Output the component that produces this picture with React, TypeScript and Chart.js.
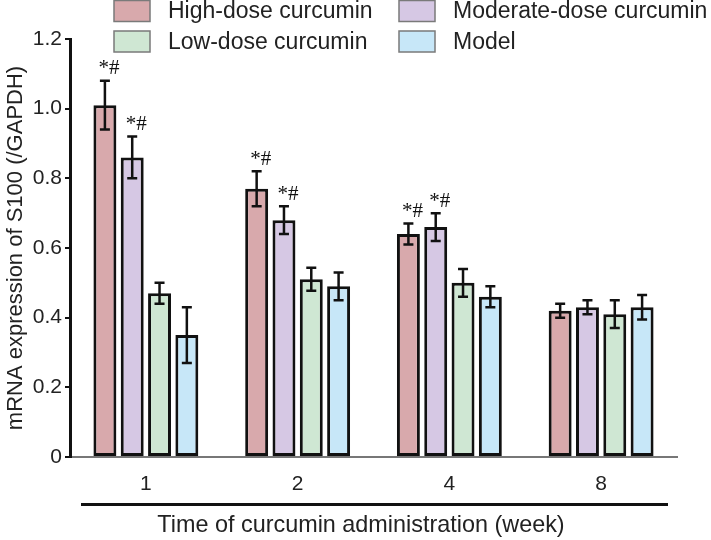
import React, { useEffect, useRef } from "react";
import { Chart, registerables } from "chart.js";

Chart.register(...registerables);

const categories = ["1", "2", "4", "8"];
const seriesNames = ["High-dose curcumin", "Moderate-dose curcumin", "Low-dose curcumin", "Model"];
const highDose = [1.01, 0.77, 0.64, 0.42];
const moderateDose = [0.86, 0.68, 0.66, 0.43];
const lowDose = [0.47, 0.51, 0.5, 0.41];
const model = [0.35, 0.49, 0.46, 0.43];
const highErr = [0.07, 0.05, 0.03, 0.02];
const moderateErr = [0.06, 0.04, 0.04, 0.02];
const lowErr = [0.03, 0.033, 0.04, 0.04];
const modelErr = [0.08, 0.04, 0.03, 0.035];
const highMarks = ["*#", "*#", "*#", ""];
const moderateMarks = ["*#", "*#", "*#", ""];
const lowMarks = ["", "", "", ""];
const modelMarks = ["", "", "", ""];
const yTicks = [0, 0.2, 0.4, 0.6, 0.8, 1.0, 1.2];
const yTitle = "mRNA expression of S100 (/GAPDH)";
const xTitle = "Time of curcumin administration (week)";

const colors = ["#d8a9ac", "#d6c8e4", "#cfe7d3", "#c7e7f8"];
const SANS = "'Liberation Sans', Arial, sans-serif";

const errors = [highErr, moderateErr, lowErr, modelErr];
const marks = [highMarks, moderateMarks, lowMarks, modelMarks];

const extrasPlugin = {
  id: "extras",
  afterDatasetsDraw(chart: any) {
    const ctx = chart.ctx;
    const y = chart.scales.y;
    ctx.save();
    chart.data.datasets.forEach((ds: any, di: number) => {
      const meta = chart.getDatasetMeta(di);
      meta.data.forEach((bar: any, i: number) => {
        const v = ds.data[i];
        const e = errors[di][i];
        const x = bar.x;
        const yt = y.getPixelForValue(v + e);
        const yb = y.getPixelForValue(v - e);
        ctx.strokeStyle = "#111";
        ctx.lineWidth = 2.5;
        ctx.beginPath();
        ctx.moveTo(x, yt);
        ctx.lineTo(x, yb);
        ctx.moveTo(x - 5, yt);
        ctx.lineTo(x + 5, yt);
        ctx.moveTo(x - 5, yb);
        ctx.lineTo(x + 5, yb);
        ctx.stroke();
        const m = marks[di][i];
        if (m) {
          ctx.fillStyle = "#111";
          ctx.font = "21px 'Liberation Serif', 'Times New Roman', serif";
          ctx.textAlign = "center";
          ctx.textBaseline = "middle";
          ctx.fillText(m, x + 4, yt - 12);
        }
      });
    });
    ctx.restore();
  },
  afterDraw(chart: any) {
    const ctx = chart.ctx;
    const area = chart.chartArea;
    ctx.save();
    // legend
    const cols = [114, 399];
    const rows = [0.5, 31];
    chart.data.datasets.forEach((ds: any, di: number) => {
      const bx = cols[di % 2];
      const by = rows[Math.floor(di / 2)];
      ctx.fillStyle = ds.backgroundColor;
      ctx.fillRect(bx, by, 36, 21);
      ctx.strokeStyle = "#7a7a7a";
      ctx.lineWidth = 1.5;
      ctx.strokeRect(bx, by, 36, 21);
      ctx.fillStyle = "#222";
      ctx.font = "23px " + SANS;
      ctx.textAlign = "left";
      ctx.textBaseline = "middle";
      ctx.fillText(ds.label, bx + 54, by + 11.5);
    });
    // bottom separator line
    ctx.strokeStyle = "#111";
    ctx.lineWidth = 3;
    ctx.beginPath();
    ctx.moveTo(area.left + 11, 504.5);
    ctx.lineTo(area.right - 9, 504.5);
    ctx.stroke();
    // x title
    ctx.fillStyle = "#222";
    ctx.font = "23.4px " + SANS;
    ctx.textAlign = "center";
    ctx.textBaseline = "middle";
    ctx.fillText(xTitle, 361, 526);
    ctx.restore();
  },
};

export default function App() {
  const ref = useRef<HTMLCanvasElement | null>(null);
  useEffect(() => {
    if (!ref.current) return;
    const data = [highDose, moderateDose, lowDose, model];
    const chart = new Chart(ref.current, {
      type: "bar",
      data: {
        labels: categories,
        datasets: data.map((d, i) => ({
          label: seriesNames[i],
          data: d,
          backgroundColor: colors[i],
          borderColor: "#111",
          borderWidth: 3,
          borderSkipped: false,
          categoryPercentage: 0.72,
          barPercentage: 0.84,
        })),
      },
      options: {
        animation: false,
        responsive: true,
        maintainAspectRatio: false,
        layout: { padding: { top: 39, right: 34, left: 0, bottom: 0 } },
        plugins: { legend: { display: false }, tooltip: { enabled: false }, title: { display: false } },
        scales: {
          x: {
            grid: { display: false, drawTicks: false },
            border: { display: true, color: "#777", width: 2 },
            ticks: { color: "#222", font: { size: 21, family: SANS }, padding: 15 },
            afterFit: (s: any) => {
              s.height = 83;
            },
          },
          y: {
            min: 0,
            max: 1.2,
            afterBuildTicks: (s: any) => {
              s.ticks = yTicks.map((v) => ({ value: v }));
            },
            grid: { drawOnChartArea: false, drawTicks: true, tickLength: 5, color: "#111", lineWidth: 2 },
            border: { display: true, color: "#111", width: 3 },
            ticks: {
              color: "#222",
              font: { size: 21, family: SANS },
              padding: 3,
              callback: (v: any) => (v === 0 ? "0" : Number(v).toFixed(1)),
            },
            title: {
              display: true,
              text: yTitle,
              color: "#222",
              font: { size: 22, family: SANS },
              padding: { top: 3, bottom: 0 },
            },
            afterFit: (s: any) => {
              s.width = 70;
            },
          },
        },
      },
      plugins: [extrasPlugin],
    });
    return () => chart.destroy();
  }, []);
  return (
    <div style={{ position: "absolute", left: 0, top: 0, width: 711, height: 540, background: "#fff" }}>
      <canvas ref={ref} />
    </div>
  );
}
